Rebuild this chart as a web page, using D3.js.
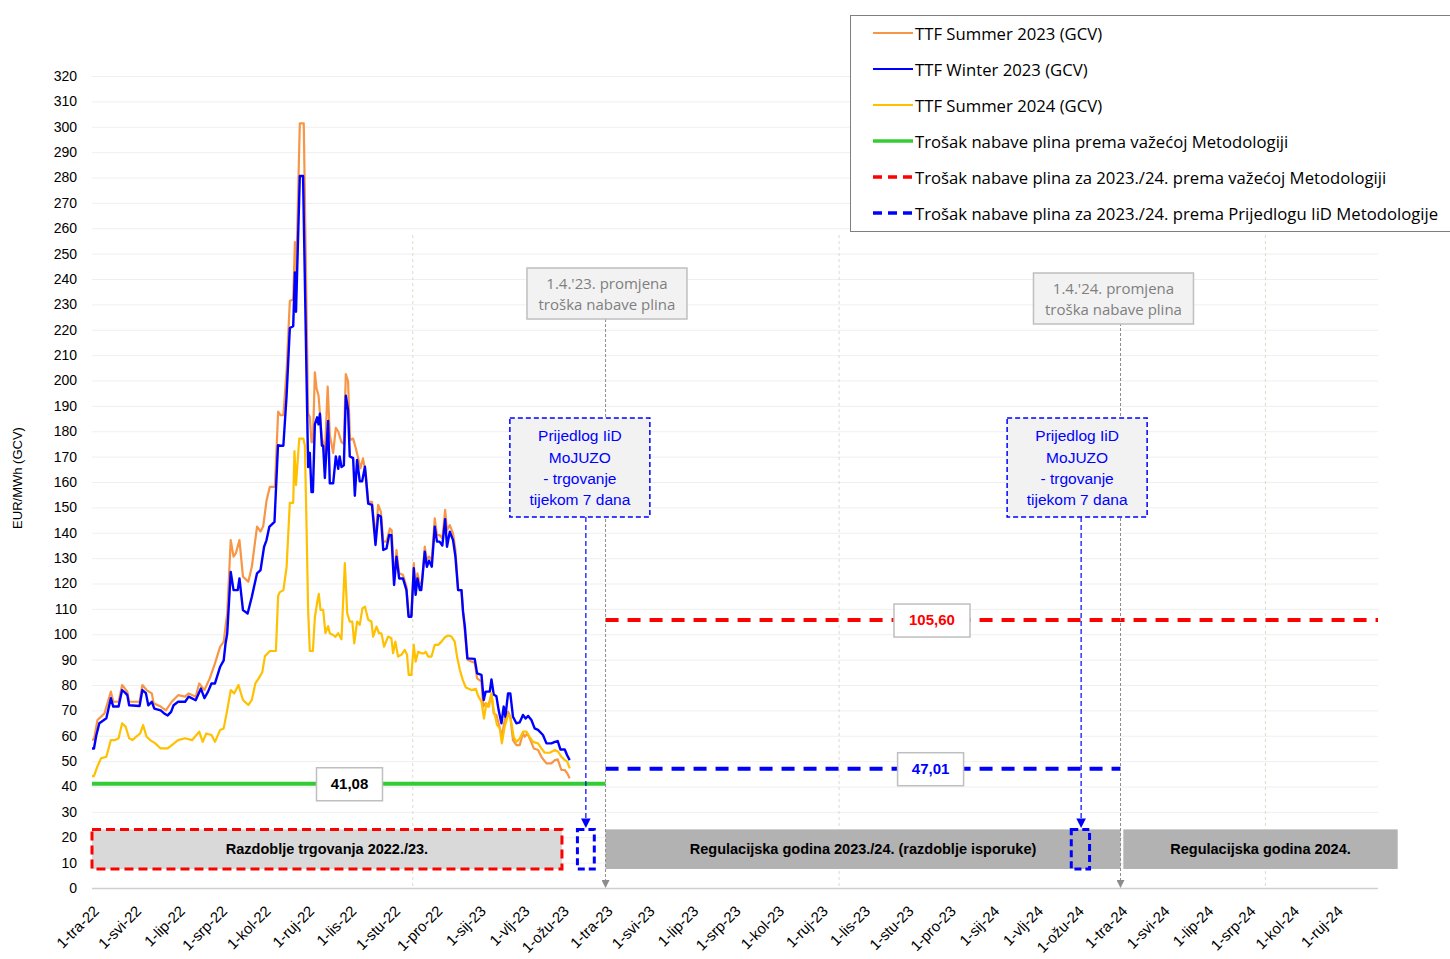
<!DOCTYPE html>
<html>
<head>
<meta charset="utf-8">
<script src="https://cdn.jsdelivr.net/npm/d3@7"></script>
<style>
  body { margin: 0; background: #fff; }
  svg { font-family: "Liberation Sans", Arial, sans-serif; }
</style>
</head>
<body>
<div id="chart"></div>
<script>
// podaci: [dan od 1.4.2022., EUR/MWh]
var summer23 = [[0,58.5],[1.4,58.5],[3.9,66.2],[8.9,68.8],[13.4,77.4],[15.1,73.4],[18.9,73.4],[21.4,80],[25.1,77.4],[26.4,73.4],[33.8,73.4],[35.8,80],[38.8,78],[42.5,76.7],[43.8,72.8],[48.8,71.5],[52.5,70],[56.7,73.4],[61.2,76],[66.2,75.4],[68.7,76.7],[73.7,75.4],[76.2,80.6],[79.9,78],[83.7,82.6],[87.4,88.5],[91.1,95.1],[93.6,97],[94.9,103],[96.1,108.2],[98.6,137.1],[100.6,130.6],[102.3,132],[104.8,137.1],[107.3,122.7],[111.1,120.7],[113.6,126.6],[117.3,142.4],[119.8,140.5],[121.7,142.6],[124,152.5],[126.4,158.1],[130,158.1],[132.3,187.7],[134,186.3],[136,186.3],[138.3,203.9],[140.6,231.3],[143,232],[144.2,254.5],[145,239],[147.7,301.3],[150.5,301.3],[153.6,187],[154.8,185.6],[156,175.7],[157,175.7],[158.4,203.2],[159.6,196.9],[161,194.1],[162,187],[163.4,177.1],[164.3,175.7],[165.5,170.1],[167.5,197.6],[169,178.5],[171.4,171.5],[173.3,181.3],[175,179.9],[177.3,175.7],[179,175],[180.4,202.5],[182,199.7],[183.4,176.6],[185.6,177.1],[187.5,173.3],[188.9,170],[190.8,165.4],[192.6,169.3],[194.6,163.4],[196.3,152.2],[199,152.2],[201.5,137.8],[203.4,151],[205.3,148.3],[207,136.5],[209.3,136.5],[211.7,141.7],[213,141],[214.7,121.4],[216.4,133.2],[218.3,124],[221,123.4],[223.5,118.7],[225,107.5],[227,107.5],[228.7,128],[230,117.4],[231.3,124],[233,120],[234.5,120],[236.5,134.5],[238,129.3],[239.6,130.6],[241.5,129.3],[243.6,145.7],[245.2,139.1],[247,139.1],[249,137.8],[251,149],[252.3,141],[254.3,143],[256.6,139.7],[258.3,133.2],[260.2,117.4],[262.6,117.4],[263.7,108.9],[266.8,90],[270,89.2],[272,88.8],[273.7,82.6],[276.8,81.3],[278,71.5],[279.8,72.8],[281.5,71.5],[283.9,76.3],[285.5,68.8],[287.4,68.2],[289.6,63.6],[291.3,59.6],[293.3,66.2],[295.7,69.5],[297.3,67.5],[299.2,58.3],[301.6,56.3],[304,56.3],[306.3,60.9],[307.5,59.6],[309.4,60.9],[311.6,58.3],[314,55],[317,54.4],[319.4,51.7],[323,49.1],[326.5,49.1],[329,50.4],[331,50.7],[333.6,46.5],[336,46.5],[337.8,45.2],[339.5,43.2]];

var winter23 = [[0,55],[1.4,55],[3,60],[5.2,64.9],[8,66],[10.2,66.9],[13.4,74.8],[15.1,71.5],[18.9,71.5],[21.4,78],[23.5,77],[25.1,76],[26.4,72],[33.8,71.7],[35.8,78],[38.3,76.8],[40,72],[42.5,73.4],[44.3,70.7],[48.8,70],[51.3,68.8],[53.8,68],[56.2,69.4],[58,72],[61.2,73.4],[66.2,73.4],[68.7,75.4],[73.7,74],[77.4,78.6],[79.9,74.8],[82.4,77.3],[84.9,80.6],[87.4,80.6],[91.1,87.2],[93.6,89.7],[94.9,96.3],[96.1,100.3],[98.6,124.6],[100.6,117.4],[103.6,117.4],[104.8,122],[107.3,109.5],[110.6,108.2],[113.6,114.8],[117.3,124],[119.8,125.3],[122.3,134.5],[124,137],[126,142.3],[129.7,144.3],[132.2,174.5],[134,174.3],[136,174.3],[138.3,194],[140.6,220.7],[143,221.4],[144.2,242.6],[145,227.1],[147.7,280.6],[150,280.6],[153.6,165.9],[154.8,171.5],[156,156],[157,156],[158.4,182.7],[160,185.5],[161,182.7],[162,186.9],[163.4,174.3],[164.3,174.3],[165.5,161.6],[167.8,184.1],[169,159.5],[171.4,159.5],[173.3,170.1],[175,165.2],[176,170.1],[177.3,165.9],[179,166.6],[180.4,194],[182,188.4],[183.2,170.1],[185.6,169.4],[186.8,154.6],[188.4,168.7],[190.3,160.3],[192,160.3],[194,166],[196.3,151.5],[199,151],[201.5,135.2],[203.4,147],[205.3,146.4],[207,133.2],[209.3,133.8],[211.2,139.1],[212.8,139],[214.7,119.4],[216.4,130.6],[218.3,122],[221,122],[223.5,117.4],[225,106.9],[227,106.9],[228.7,126],[230,115.5],[231.3,122],[233,117.4],[234,117.4],[236.5,132.5],[238,126.6],[239.6,129],[241.5,126.6],[243.6,142.4],[245.2,136.5],[247,136.5],[249,135],[251,145.3],[252.3,134.5],[254.3,140.4],[256.6,137.1],[258.3,130.6],[260.2,117.4],[262.6,117.4],[263.7,108.9],[265,103],[266.8,90.5],[272,90.3],[273.7,84.6],[276.8,84],[278.4,74.1],[279.8,77.4],[282.7,77.4],[283.9,82.2],[285.5,76.3],[287.4,75.6],[289,70.1],[291,64.9],[292.6,71.5],[293.8,67.5],[295.7,76.7],[297.3,76.7],[299.2,67.5],[301.6,64.9],[304,65.3],[306.3,68.2],[308.2,66.8],[310,67.8],[312.3,66.2],[314.6,62.9],[317,62.3],[320.5,60.3],[323,57],[326.5,57],[329,57.6],[331,57.9],[332.9,54.6],[336,54.6],[337.6,52.4],[339.5,50.4]];

var summer24 = [[0,44.1],[1.4,44.1],[3.9,48],[6.4,51.1],[10.2,51.7],[13.4,58.3],[16.4,58.3],[18.9,59],[21.4,64.9],[23.9,63.6],[26.4,59],[28.9,58.3],[31.3,59.6],[34.3,60.9],[36.3,64.2],[38.8,59.6],[41.3,58.3],[45,57],[48.8,55],[53.8,55],[56.7,56.3],[61.2,58.3],[66.2,59],[71.2,58.3],[76.2,61.6],[78.7,57.6],[81.2,60.9],[84.9,60.3],[87.4,57.6],[91.1,62.3],[93.6,62.9],[96.1,70.1],[98.6,78],[101.1,76.7],[104.1,80],[107.3,74.1],[111.1,72.1],[113.6,74.1],[116.1,80.6],[118.5,82.6],[121,85],[122.9,91.3],[126.4,93.4],[130.7,93.4],[132.3,115.2],[133.5,116.6],[136,117.3],[138.3,126.4],[140.6,151.8],[143,151.8],[143.9,172.2],[145,158.8],[147.3,177.1],[150.2,177.1],[151.3,174.3],[152.5,141.9],[153.6,109.6],[154.8,93.4],[157,93.4],[158.4,106.7],[160,112.4],[161.2,115.9],[162.4,109.6],[164.3,109.6],[165.9,100.4],[167.8,103.2],[169,100.4],[171.4,99.7],[173,99],[175,100.4],[177.3,98],[179.7,128],[181.4,108.3],[183.2,105],[185,105],[186.4,96.4],[188.4,105],[190.3,103.7],[192.2,110.2],[194,110.9],[196.3,105.7],[198.6,105],[199.8,99.1],[202.2,103],[204,100.4],[205.7,100.4],[207.6,95.1],[210.4,99.1],[212.8,98.4],[214,92.5],[215.6,97.1],[217.5,91.2],[219.9,91.9],[222.3,93.8],[223.9,91.9],[225.1,84],[227,84],[228.7,95.8],[230,89.2],[231.8,93.1],[234.1,92.5],[236,92.5],[237.2,93.1],[238.9,91.2],[241.3,91.2],[243.6,95.8],[246,95.8],[248.4,97.1],[250.8,98.8],[253.1,99.5],[255.5,99.1],[257.8,97.1],[259.5,91],[261.4,86],[263.5,82],[265.7,79],[269.7,78],[272.8,78.5],[274.4,75.7],[276.8,73.4],[278.6,66.8],[280.3,72.8],[282.2,71.5],[283.9,76.7],[285.5,70.1],[287.9,64.2],[289.8,62.9],[291.3,57],[293.3,63.6],[295.7,68.2],[297.3,67.5],[299.7,59.6],[301.6,57.6],[304,58.9],[306.3,61.6],[308.7,61.6],[311,59.6],[313.5,57.6],[317,57],[319.4,55],[321.8,53.3],[325.3,53.3],[329,54.4],[331.3,53.7],[333.6,51.7],[336,50.4],[337.8,49.8],[339.5,47.1]];

// troškovi nabave plina (razine)
var costLevels = [
  { key: "green", value: 41.08, from: "2022-04-01", to: "2023-04-01", label: "41,08", labelAt: "2022-10-01" },
  { key: "red",   value: 105.60, from: "2023-04-01", to: "2024-10-01", label: "105,60", labelAt: "2023-11-19" },
  { key: "blue",  value: 47.01, from: "2023-04-01", to: "2024-04-01", label: "47,01", labelAt: "2023-11-18" }
];

var monthNames = ["sij","vlj","ožu","tra","svi","lip","srp","kol","ruj","lis","stu","pro"];
var yTicks = d3.range(0, 321, 10);

var legendNames = [
  "TTF Summer 2023 (GCV)",
  "TTF Winter 2023 (GCV)",
  "TTF Summer 2024 (GCV)",
  "Trošak nabave plina prema važećoj Metodologiji",
  "Trošak nabave plina za 2023./24. prema važećoj Metodologiji",
  "Trošak nabave plina za 2023./24. prema Prijedlogu IiD Metodologije"
];

var bands = [
  { text: "Razdoblje trgovanja 2022./23.", from: "2022-04-01", to: "2023-03-01", kind: "trade" },
  { text: "Regulacijska godina 2023./24. (razdoblje isporuke)", from: "2023-04-01", to: "2024-04-01", kind: "reg" },
  { text: "Regulacijska godina 2024.", from: "2024-04-03", to: "2024-10-15", kind: "reg" }
];
var weekBoxes = [["2023-03-12", "2023-03-24"], ["2024-02-26", "2024-03-10"]];
var changeDates = ["2023-04-01", "2024-04-01"];
var noteDates = ["2023-04-02", "2024-03-27"];
var proposalDates = ["2023-03-18", "2024-03-04"];
var vGridDates = ["2022-11-15", "2023-09-14", "2024-07-13"];

var colors = {
  summer23: "#F79646", winter23: "#0000FF", summer24: "#FFC000",
  green: "#33CC33", red: "#FF0000", blue: "#0000FF"
};

var W = 1450, H = 959;
var start = new Date(2022, 3, 1);
var parse = d3.timeParse("%Y-%m-%d");
function dayDate(d) { return new Date(+start + d * 864e5); }

var svg = d3.select("#chart").append("svg")
  .attr("width", W).attr("height", H);

var defs = svg.append("defs");
function marker(id, color) {
  defs.append("marker").attr("id", id)
    .attr("viewBox", "0 0 10 10").attr("refX", 10).attr("refY", 5)
    .attr("markerWidth", 8).attr("markerHeight", 8).attr("orient", "auto")
    .append("path").attr("d", "M0,0 L10,5 L0,10 z").attr("fill", color);
}
marker("arrBlue", "#0000FF");
marker("arrGray", "#8c8c8c");

var x = d3.scaleTime().domain([start, new Date(2024, 9, 1)]).range([92, 1378]);
var y = d3.scaleLinear().domain([0, 320]).range([888, 76]);

// mreža
svg.append("g").selectAll("line").data(yTicks.slice(1)).enter().append("line")
  .attr("x1", 92).attr("x2", 1378)
  .attr("y1", function (d) { return y(d) + 0.5; })
  .attr("y2", function (d) { return y(d) + 0.5; })
  .attr("stroke", "#efefef").attr("stroke-width", 1);

svg.append("g").selectAll("line").data(vGridDates).enter().append("line")
  .attr("x1", function (d) { return x(parse(d)); })
  .attr("x2", function (d) { return x(parse(d)); })
  .attr("y1", 235).attr("y2", 888)
  .attr("stroke", "#dcdccc").attr("stroke-width", 1).attr("stroke-dasharray", "3,3");

// y os
svg.append("g").selectAll("text").data(yTicks).enter().append("text")
  .attr("x", 77).attr("y", function (d) { return y(d); })
  .attr("dy", "0.35em").attr("text-anchor", "end")
  .attr("font-size", 14).attr("fill", "#000")
  .text(function (d) { return d; });

svg.append("text")
  .attr("transform", "translate(22,478) rotate(-90)")
  .attr("text-anchor", "middle").attr("font-size", 13)
  .text("EUR/MWh (GCV)");

// trake na dnu
var bandG = svg.append("g");
bands.forEach(function (b) {
  var x0 = x(parse(b.from)), x1 = x(parse(b.to));
  bandG.append("rect")
    .attr("x", x0).attr("y", y(23.1))
    .attr("width", x1 - x0).attr("height", y(7.5) - y(23.1))
    .attr("fill", b.kind === "trade" ? "#D9D9D9" : "#B2B2B2")
    .attr("stroke", b.kind === "trade" ? "#FF0000" : "none")
    .attr("stroke-width", 3).attr("stroke-dasharray", "9,5");
  bandG.append("text")
    .attr("x", (x0 + x1) / 2).attr("y", y(15.3)).attr("dy", "0.35em")
    .attr("text-anchor", "middle").attr("font-size", 14.5).attr("font-weight", "bold")
    .attr("fill", "#000").text(b.text);
});
weekBoxes.forEach(function (w) {
  var x0 = x(parse(w[0])), x1 = x(parse(w[1]));
  bandG.append("rect")
    .attr("x", x0).attr("y", y(23.1))
    .attr("width", x1 - x0).attr("height", y(7.5) - y(23.1))
    .attr("fill", "none").attr("stroke", "#0000FF")
    .attr("stroke-width", 3).attr("stroke-dasharray", "7,4");
});

// os x
svg.append("line").attr("x1", 92).attr("x2", 1378).attr("y1", 888.5).attr("y2", 888.5)
  .attr("stroke", "#d0d0d0").attr("stroke-width", 1.5);

var months = d3.timeMonth.range(start, new Date(2024, 8, 2));
svg.append("g").selectAll("text").data(months).enter().append("text")
  .attr("transform", function (d) { return "translate(" + (x(d) + 8) + ",912) rotate(-45)"; })
  .attr("text-anchor", "end").attr("font-size", 15).attr("fill", "#000")
  .text(function (d) {
    return "1-" + monthNames[d.getMonth()] + "-" + String(d.getFullYear()).slice(2);
  });

// linije serija
var line = d3.line()
  .x(function (d) { return x(dayDate(d[0])); })
  .y(function (d) { return y(d[1]); });

[[summer23, colors.summer23, 2.2], [winter23, colors.winter23, 2.4], [summer24, colors.summer24, 2.2]]
  .forEach(function (s) {
    svg.append("path").datum(s[0])
      .attr("d", line).attr("fill", "none")
      .attr("stroke", s[1]).attr("stroke-width", s[2])
      .attr("stroke-linejoin", "round");
  });

// razine troška
costLevels.forEach(function (c) {
  svg.append("line")
    .attr("x1", x(parse(c.from))).attr("x2", x(parse(c.to)))
    .attr("y1", y(c.value)).attr("y2", y(c.value))
    .attr("stroke", colors[c.key]).attr("stroke-width", 4)
    .attr("stroke-dasharray", c.key === "green" ? null : "13,9");
});

// okomite crte
changeDates.forEach(function (d, i) {
  svg.append("line")
    .attr("x1", x(parse(d))).attr("x2", x(parse(d)))
    .attr("y1", i === 0 ? 319 : 323).attr("y2", 888)
    .attr("stroke", "#8c8c8c").attr("stroke-width", 1).attr("stroke-dasharray", "3,2")
    .attr("marker-end", "url(#arrGray)");
});
proposalDates.forEach(function (d) {
  svg.append("line")
    .attr("x1", x(parse(d))).attr("x2", x(parse(d)))
    .attr("y1", 517).attr("y2", 828)
    .attr("stroke", "#0000FF").attr("stroke-width", 1.2).attr("stroke-dasharray", "5,3")
    .attr("marker-end", "url(#arrBlue)");
});

// napomene
noteDates.forEach(function (d, i) {
  var cx = x(parse(d)), top = i === 0 ? 268 : 273;
  svg.append("rect").attr("x", cx - 80).attr("y", top).attr("width", 160).attr("height", 51)
    .attr("fill", "#F2F2F2").attr("stroke", "#BFBFBF").attr("stroke-width", 1.5);
  var yr = i === 0 ? "23" : "24";
  ["1.4.'" + yr + ". promjena", "troška nabave plina"].forEach(function (t, k) {
    svg.append("text").attr("x", cx).attr("y", top + 16 + k * 21).attr("dy", "0.35em")
      .attr("text-anchor", "middle").attr("font-size", 15)
      .style("font-family", "'Open Sans', sans-serif").attr("fill", "#7F7F7F").text(t);
  });
});
proposalDates.forEach(function (d, i) {
  var cx = x(parse(d)) - 6 + (i === 0 ? 0 : 2);
  svg.append("rect").attr("x", cx - 70).attr("y", 418).attr("width", 140).attr("height", 99)
    .attr("fill", "#F2F2F2").attr("stroke", "#0000FF").attr("stroke-width", 1.5)
    .attr("stroke-dasharray", "5,3");
  ["Prijedlog IiD", "MoJUZO", "- trgovanje", "tijekom 7 dana"].forEach(function (t, k) {
    svg.append("text").attr("x", cx).attr("y", 436 + k * 21.3).attr("dy", "0.35em")
      .attr("text-anchor", "middle").attr("font-size", 15.5).attr("fill", "#0000FF").text(t);
  });
});

// oznake vrijednosti
costLevels.forEach(function (c) {
  var cx = x(parse(c.labelAt)), cy = y(c.value);
  var w = c.label.length * 10 + 16;
  svg.append("rect").attr("x", cx - w / 2).attr("y", cy - 16).attr("width", w).attr("height", 33)
    .attr("fill", "#fff").attr("stroke", "#BFBFBF").attr("stroke-width", 1.5);
  svg.append("text").attr("x", cx).attr("y", cy).attr("dy", "0.35em")
    .attr("text-anchor", "middle").attr("font-size", 15).attr("font-weight", "bold")
    .attr("fill", c.key === "green" ? "#000" : colors[c.key]).text(c.label);
});

// legenda
var lg = svg.append("g");
lg.append("rect").attr("x", 850.5).attr("y", 15.5).attr("width", 620).attr("height", 216)
  .attr("fill", "#fff").attr("stroke", "#7F7F7F").attr("stroke-width", 1);
var legendStyles = [
  [colors.summer23, null, 2], [colors.winter23, null, 2], [colors.summer24, null, 2],
  [colors.green, null, 3.5], [colors.red, "9,6", 3.5], [colors.blue, "9,6", 3.5]
];
legendNames.forEach(function (n, i) {
  var ly = 33 + i * 36;
  lg.append("line").attr("x1", 873).attr("x2", 913).attr("y1", ly).attr("y2", ly)
    .attr("stroke", legendStyles[i][0]).attr("stroke-width", legendStyles[i][2])
    .attr("stroke-dasharray", legendStyles[i][1]);
  lg.append("text").attr("x", 915).attr("y", ly + 1).attr("dy", "0.35em")
    .attr("font-size", 16.7).style("font-family", "'Open Sans', sans-serif")
    .attr("fill", "#000").text(n);
});
</script>
</body>
</html>
